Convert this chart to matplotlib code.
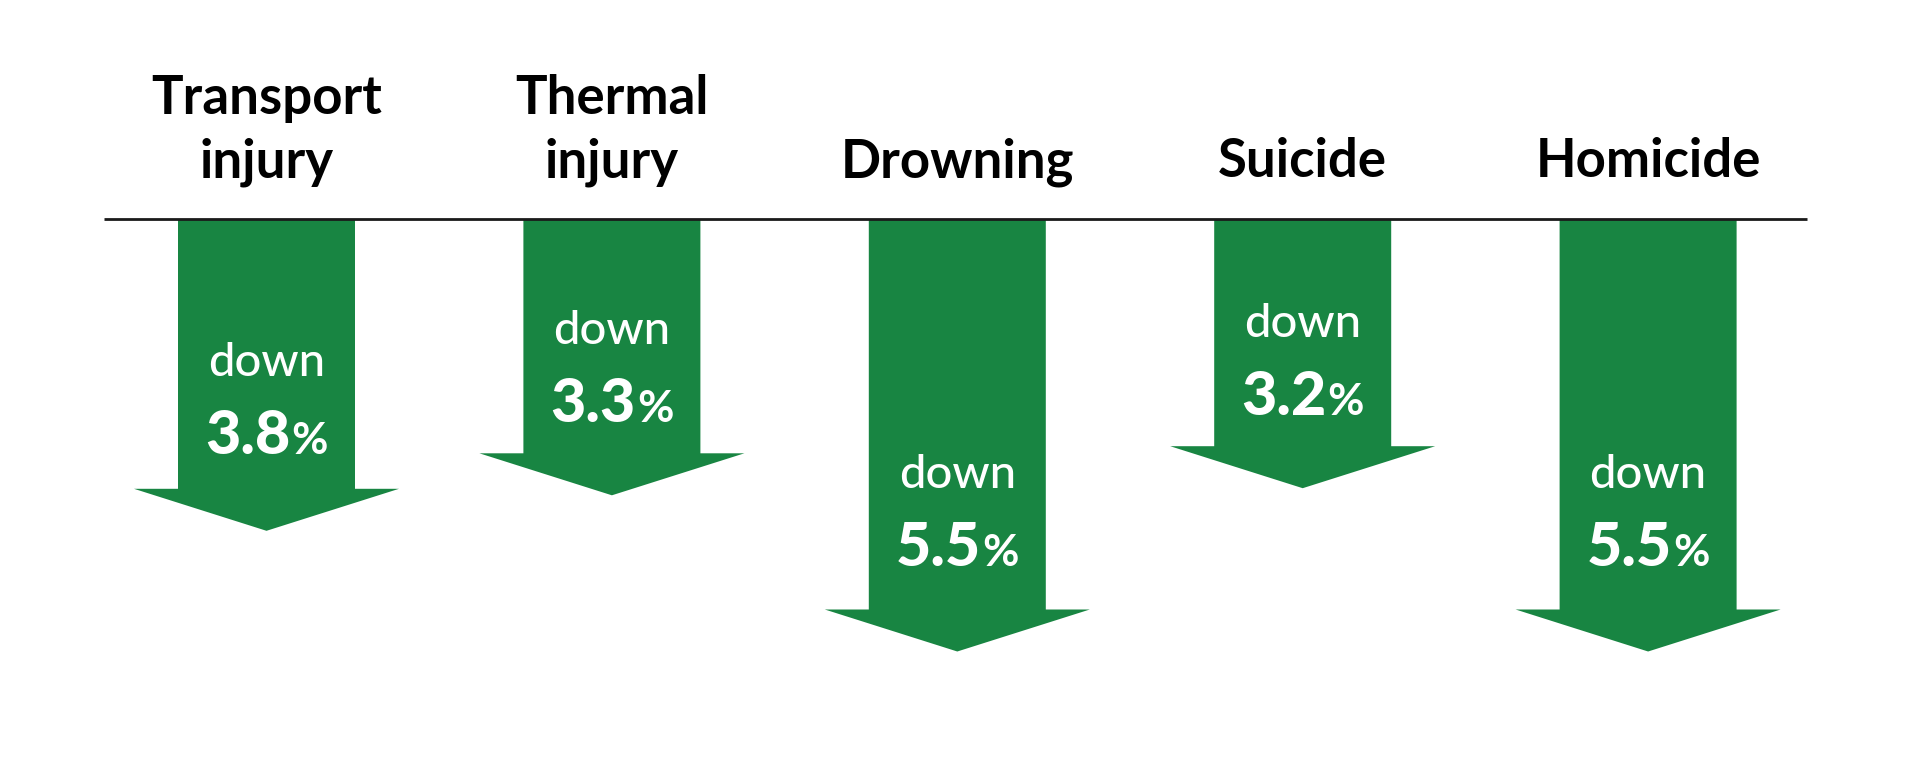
import matplotlib
matplotlib.use("Agg")
import matplotlib.pyplot as plt

# ---- data ----
categories = ["Transport\ninjury", "Thermal\ninjury", "Drowning", "Suicide", "Homicide"]
values = [3.8, 3.3, 5.5, 3.2, 5.5]
value_labels = ["3.8", "3.3", "5.5", "3.2", "5.5"]
word = "down"

# ---- style ----
GREEN = "#188542"
FONT = ["Lato", "DejaVu Sans"]
DPI = 100
W, H = 1920, 772
PX_X = 345.4   # pixels per category step
PX_Y = 71.0    # pixels per percentage point
X0_PX = 266.5  # pixel centre of first category
LINE_PX = 219  # baseline line position from top

shaft_half = 88.5 / PX_X
head_half = 132.5 / PX_X
head_len = 42 / PX_Y

fig = plt.figure(figsize=(W / DPI, H / DPI), dpi=DPI)
ax = fig.add_axes([0, 0, 1, 1])
ax.set_xlim(-X0_PX / PX_X, (W - X0_PX) / PX_X)
ax.set_ylim(-(H - LINE_PX) / PX_Y, LINE_PX / PX_Y)
ax.axis("off")

# baseline
ax.plot([(104 - X0_PX) / PX_X, (1807 - X0_PX) / PX_X], [0, 0],
        color="#1a1a1a", lw=2.0, solid_capstyle="butt", zorder=3)

fig.canvas.draw()
renderer = fig.canvas.get_renderer()

for i, (cat, v, lab) in enumerate(zip(categories, values, value_labels)):
    # arrow
    xs = [i - shaft_half, i + shaft_half, i + shaft_half, i + head_half,
          i, i - head_half, i - shaft_half]
    ys = [0, 0, -v, -v, -v - head_len, -v, -v]
    ax.fill(xs, ys, color=GREEN, lw=0, zorder=2)

    # category title (lines from bottom up)
    lines = cat.split("\n")
    for k, line in enumerate(reversed(lines)):
        ax.text(i, 0.59 + k * 0.89, line, ha="center", va="baseline",
                fontsize=38, fontweight="bold", family=FONT, color="black")

    # value text
    yb = -(0.925 * v - 0.2)
    ax.text(i, yb + 78 / PX_Y, word, ha="center", va="baseline",
            fontsize=34, fontweight="medium", family=FONT, color="white", zorder=4)
    t1 = ax.text(i, yb, lab, ha="left", va="baseline", fontsize=44,
                 fontweight="black", family=FONT, color="white", zorder=4)
    t2 = ax.text(i, yb, "%", ha="left", va="baseline", fontsize=32,
                 fontweight="bold", family=FONT, color="white", zorder=4)
    w1 = t1.get_window_extent(renderer).width
    w2 = t2.get_window_extent(renderer).width
    gap = 1.0
    total = w1 + gap + w2
    start = i - (total / 2) / PX_X
    t1.set_x(start)
    t2.set_x(start + (w1 + gap) / PX_X)

fig.savefig("out.png", dpi=DPI, facecolor="white")
